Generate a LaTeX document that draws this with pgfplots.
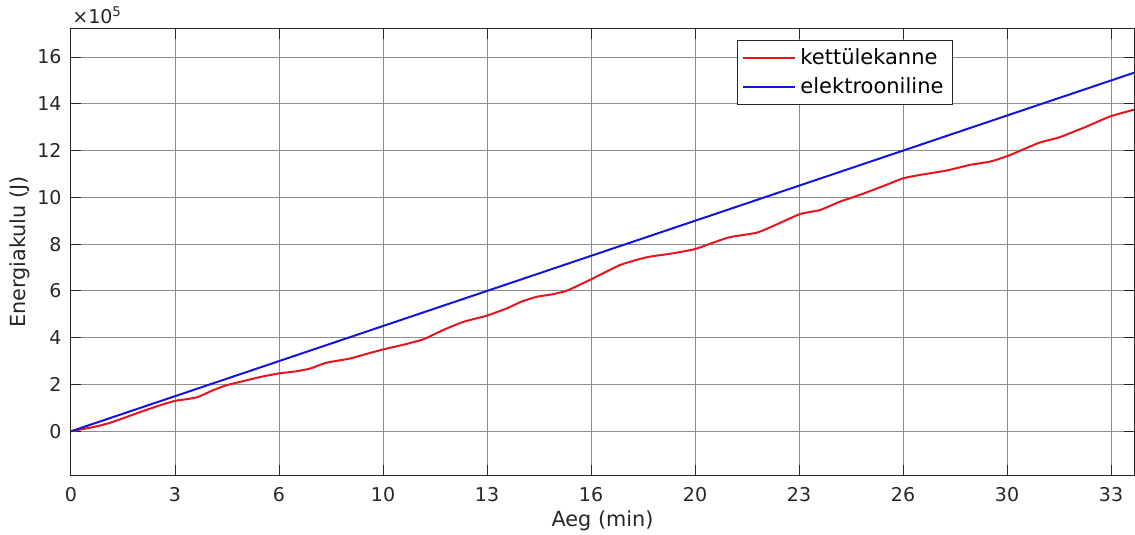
\documentclass[border=0pt]{standalone}
\usepackage{pgfplots}
\pgfplotsset{compat=1.18}
\usepackage{pgfplotstable}
\usepackage{fontspec}
\setmainfont{DejaVu Sans}

\definecolor{kettle}{RGB}{232,20,28}
\definecolor{induct}{RGB}{20,20,225}
\definecolor{axcol}{RGB}{38,38,38}

% time in minutes, energy in units of 10^5 J
\pgfplotstableread{
t E
0 0
0.72 0.18
1.25 0.36
1.78 0.61
2.30 0.86
2.85 1.11
3.33 1.30
3.75 1.38
4.08 1.47
4.56 1.76
4.99 1.97
5.63 2.18
6.10 2.33
6.65 2.47
7.20 2.56
7.66 2.68
8.19 2.93
8.94 3.11
9.45 3.30
10.01 3.50
10.65 3.70
11.29 3.93
11.93 4.33
12.58 4.68
13.32 4.94
13.96 5.25
14.45 5.55
14.93 5.75
15.40 5.85
15.89 6.01
16.63 6.47
17.60 7.11
18.45 7.44
19.30 7.61
20.00 7.79
20.55 8.05
21.12 8.30
21.98 8.49
22.51 8.78
23.37 9.29
24.01 9.46
24.65 9.82
25.29 10.11
26.14 10.54
26.68 10.82
27.21 10.96
28.07 11.15
28.81 11.39
29.46 11.53
30.04 11.78
30.55 12.07
31.06 12.35
31.70 12.58
32.55 13.03
33.30 13.46
34.07 13.75
}\kettledata

% constant 750 W draw
\pgfplotstableread{
t E
0 0
10 4.50
20 9.00
30 13.50
34.07 15.33
}\electricdata

\begin{document}
\begin{tikzpicture}
\begin{axis}[
  name=ax,
  scale only axis,
  width=531.5pt, height=223pt,
  xmin=0, xmax=34.07,
  ymin=-1.87, ymax=17.2,
  xtick={0,3.33333,6.66667,10,13.33333,16.66667,20,23.33333,26.66667,30,33.33333},
  xticklabels={0,3,6,10,13,16,20,23,26,30,33},
  ytick={0,2,...,16},
  grid=major,
  major grid style={draw=black!45, line width=0.5pt},
  axis line style={draw=axcol, line width=0.5pt},
  every tick/.style={draw=axcol, line width=0.5pt},
  tick align=inside,
  major tick length=5pt,
  xtick pos=both, ytick pos=both,
  /pgf/number format/assume math mode=true,
  tick label style={font=\fontsize{9.5}{11}\selectfont, text=axcol},
  xticklabel style={anchor=center, yshift=-9.7pt},
  yticklabel style={anchor=east, xshift=-1.2pt},
  xlabel={Aeg (min)},
  ylabel={Energiakulu (J)},
  label style={font=\fontsize{10.4}{12}\selectfont, text=axcol},
  xlabel style={at={(rel axis cs:0.5,0)}, anchor=center, yshift=-23pt},
  ylabel style={at={(rel axis cs:0,0.5)}, anchor=center, yshift=25.5pt},
  legend style={
    at={(rel axis cs:0.6265,0.9753)}, anchor=north west,
    draw=axcol, line width=0.5pt, fill=white,
    font=\fontsize{10.5}{12}\selectfont,
    inner xsep=2.5pt, inner ysep=2pt,
    row sep=1pt,
  },
  legend cell align=left,
  legend image code/.code={\draw[#1, line width=1pt] (0pt,0pt) -- (26pt,0pt);},
]
\addplot[kettle, line width=1pt, smooth, tension=0.3] table[x=t, y=E] {\kettledata};
\addlegendentry{kettülekanne}
\addplot[induct, line width=1pt] table[x=t, y=E] {\electricdata};
\addlegendentry{elektrooniline}
\end{axis}
\node[anchor=base west, inner sep=0pt, font=\fontsize{9.5}{11}\selectfont, text=axcol]
  at ([xshift=0.5pt, yshift=2.5pt]ax.north west) {×10\textsuperscript{5}};
\pgfresetboundingbox
\path ([xshift=-35.5pt, yshift=-30pt]ax.south west) rectangle ([xshift=0.5pt, yshift=14.5pt]ax.north east);
\end{tikzpicture}
\end{document}
